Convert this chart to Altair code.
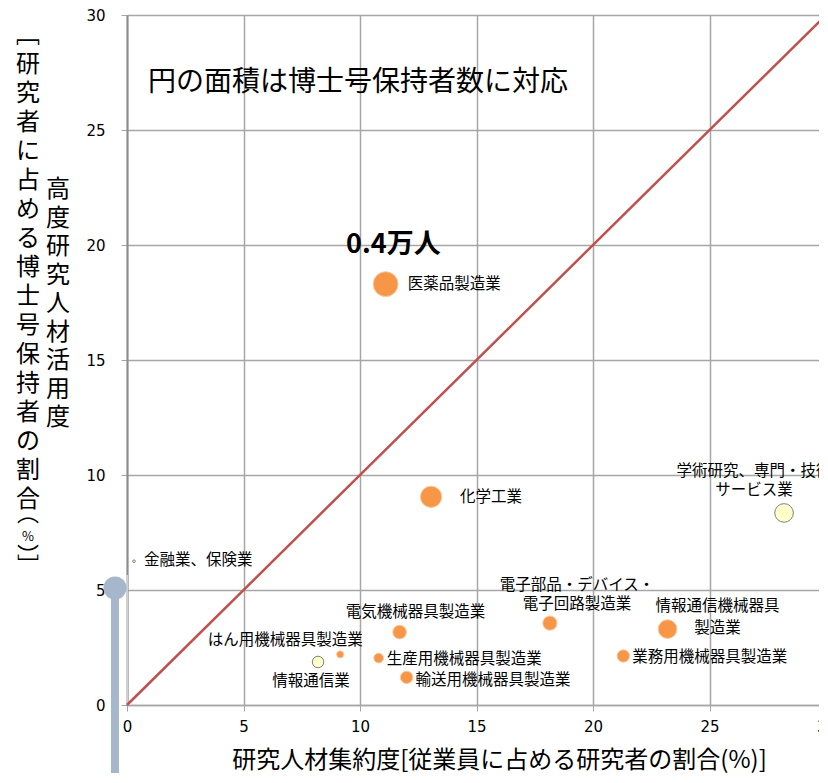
import altair as alt
import pandas as pd

# ---------------- data ----------------
industries = [
    "医薬品製造業", "化学工業", "学術研究、専門・技術サービス業", "金融業、保険業",
    "電気機械器具製造業", "はん用機械器具製造業", "情報通信業", "生産用機械器具製造業",
    "輸送用機械器具製造業", "電子部品・デバイス・電子回路製造業", "情報通信機械器具製造業",
    "業務用機械器具製造業",
]
researcher_share = [11.1, 13.05, 28.2, 0.3, 11.7, 9.15, 8.2, 10.8, 12.0, 18.15, 23.2, 21.3]
phd_share = [18.3, 9.05, 8.35, 6.25, 3.17, 2.2, 1.87, 2.04, 1.2, 3.56, 3.3, 2.13]
phd_holders = [4000, 2940, 2250, 46, 1210, 327, 862, 617, 1000, 1306, 2250, 1000]
sector = ["製造業", "製造業", "非製造業", "非製造業", "製造業", "製造業", "非製造業",
          "製造業", "製造業", "製造業", "製造業", "製造業"]
label_text = [
    "医薬品製造業", "化学工業", "学術研究、専門・技術\nサービス業", "金融業、保険業",
    "電気機械器具製造業", "はん用機械器具製造業", "情報通信業", "生産用機械器具製造業",
    "輸送用機械器具製造業", "電子部品・デバイス・\n電子回路製造業", "情報通信機械器具\n製造業",
    "業務用機械器具製造業",
]
diag_x = [0, 30]
diag_y = [0, 30]
tick_values = [0, 5, 10, 15, 20, 25, 30]

# ---------------- layout / style ----------------
JP = "Noto Sans CJK JP"
NUM = "DejaVu Sans"
ORANGE = "#f79646"
YELLOW = "#ffffcc"
label_layout = {  # align, dx, dy (first line), lineHeight
    "医薬品製造業": ("left", 22, 0, 19),
    "化学工業": ("left", 29, 0, 19),
    "学術研究、専門・技術サービス業": ("center", -30, -42, 19),
    "金融業、保険業": ("left", 10, -1, 19),
    "電気機械器具製造業": ("center", 16, -20, 19),
    "はん用機械器具製造業": ("center", -55, -14, 19),
    "情報通信業": ("center", -7, 19, 19),
    "生産用機械器具製造業": ("left", 8, 1, 19),
    "輸送用機械器具製造業": ("left", 9, 3, 19),
    "電子部品・デバイス・電子回路製造業": ("center", 27, -38, 19),
    "情報通信機械器具製造業": ("center", 50, -23, 22),
    "業務用機械器具製造業": ("left", 9, 1, 19),
}

df = pd.DataFrame({
    "industry": industries,
    "x": researcher_share,
    "y": phd_share,
    "phd": phd_holders,
    "sector": sector,
    "label": label_text,
})

xscale = alt.Scale(domain=[0, 30], nice=False, zero=True)
yscale = alt.Scale(domain=[0, 30], nice=False, zero=True)

x_axis = alt.Axis(
    values=tick_values, title="研究人材集約度[従業員に占める研究者の割合(%)]",
    titleFont=JP, titleFontSize=24, titleFontWeight="normal", titleColor="#000000",
    titleX=372, titleY=55, titleAlign="center", titleBaseline="middle",
    labelFont=NUM, labelFontSize=15, labelColor="#000000", labelPadding=8,
    tickSize=6, tickColor="#a6a6a6", domainColor="#a6a6a6", domainWidth=1.5,
    gridColor="#a6a6a6", gridWidth=1.5, labelFlush=False,
)
y_axis = alt.Axis(
    values=tick_values, title="",
    labelFont=NUM, labelFontSize=15, labelColor="#000000", labelPadding=16,
    tickSize=6, tickColor="#a6a6a6", domainColor="#8c8c8c", domainWidth=2,
    gridColor="#a6a6a6", gridWidth=1.5, labelFlush=False,
)

base = alt.Chart(df)

grid_layer = base.mark_point(opacity=0).encode(
    x=alt.X("x:Q", scale=xscale, axis=x_axis),
    y=alt.Y("y:Q", scale=yscale, axis=y_axis),
)

one = pd.DataFrame({"t": [""]})

light_domain = alt.Chart(one).mark_rule(color="#d0d0d0", strokeWidth=2).encode(
    x=alt.value(0), y=alt.value(560), y2=alt.value(690)
)

diag = alt.Chart(pd.DataFrame({"x": diag_x, "y": diag_y})).mark_line(
    color="#c0504d", strokeWidth=2.5
).encode(x=alt.X("x:Q", scale=xscale), y=alt.Y("y:Q", scale=yscale))

points = base.mark_circle(opacity=1, strokeWidth=1).encode(
    x=alt.X("x:Q", scale=xscale),
    y=alt.Y("y:Q", scale=yscale),
    size=alt.Size("phd:Q", scale=alt.Scale(domain=[0, 4000], range=[0, 616], zero=True), legend=None),
    fill=alt.Fill("sector:N", scale=alt.Scale(domain=["製造業", "非製造業"], range=[ORANGE, YELLOW]), legend=None),
    stroke=alt.Stroke("sector:N", scale=alt.Scale(domain=["製造業", "非製造業"], range=["#f9c9a0", "#808080"]), legend=None),
)

label_layers = []
for name in industries:
    align, dx, dy, lh = label_layout[name]
    label_layers.append(
        base.transform_filter(alt.datum.industry == name).mark_text(
            align=align, baseline="middle", dx=dx, dy=dy, font=JP, fontSize=15.5,
            lineBreak="\n", lineHeight=lh, color="#000000",
        ).encode(
            x=alt.X("x:Q", scale=xscale), y=alt.Y("y:Q", scale=yscale), text="label:N"
        )
    )


def note(text, x, y, size, align="left", weight="normal", lh=None, font=JP, baseline="middle"):
    kw = dict(align=align, baseline=baseline, font=font, fontSize=size,
              fontWeight=weight, color="#000000", lineBreak="\n")
    if lh is not None:
        kw["lineHeight"] = lh
    return alt.Chart(pd.DataFrame({"t": [text]})).mark_text(**kw).encode(
        text="t:N", x=alt.value(x), y=alt.value(y)
    )


title_note = note("円の面積は博士号保持者数に対応", 21, 68, 28)
scale_note = note("0.4万人", 219, 230, 27, weight="bold")

col1_main = "\n".join(list("﹇研究者に占める博士号保持者の割合"))
col1 = note(col1_main, -99, 21, 24, align="center", lh=29)
col1_a = note("︵", -99, 499, 22, align="center")
col1_b = note("%", -99, 522, 13, align="center")
col1_c = note("︶", -99, 541, 22, align="center")
col1_d = note("﹈", -99, 551, 22, align="center")
col2 = note("\n".join(list("高度研究人材活用度")), -69, 175, 24, align="center", lh=28.5)

slider_bar = alt.Chart(one).mark_rule(color="#a6b7cc", strokeWidth=8).encode(
    x=alt.value(-12), y=alt.value(573), y2=alt.value(790)
)
slider_knob = alt.Chart(one).mark_circle(color="#a6b7cc", opacity=1, size=530).encode(
    x=alt.value(-12), y=alt.value(573)
)

chart = alt.layer(
    grid_layer, light_domain, diag, points, *label_layers,
    title_note, scale_note, col1, col1_a, col1_b, col1_c, col1_d, col2,
    slider_bar, slider_knob,
).properties(
    width=699, height=690,
    autosize=alt.AutoSizeParams(type="none"),
    padding={"left": 119, "top": 7, "right": -7, "bottom": 68},
).configure_view(strokeWidth=0).configure(background="white")

chart.save("out.html", embed_options={"renderer": "svg", "actions": False})
